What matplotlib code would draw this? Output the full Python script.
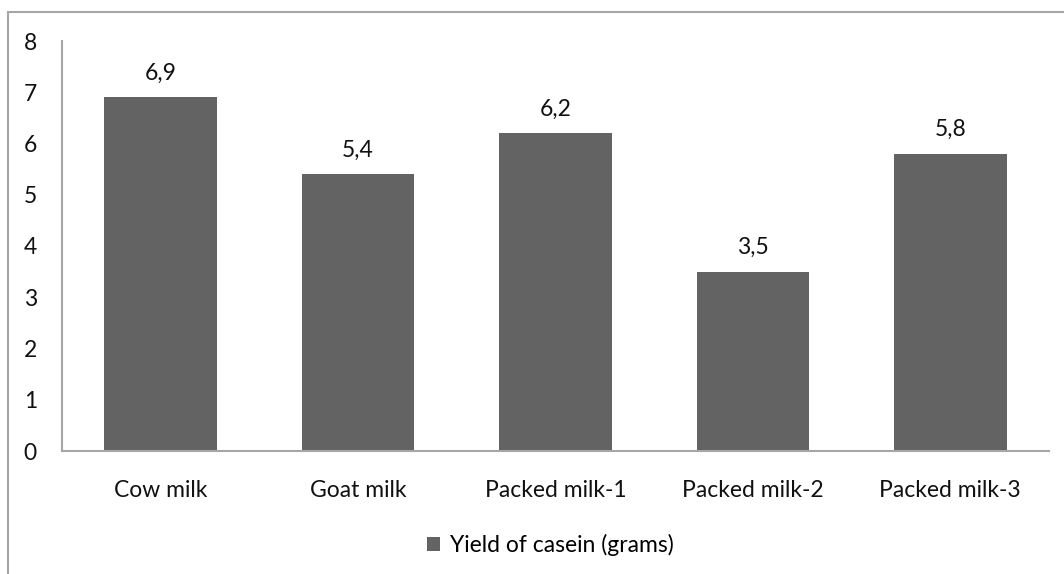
import matplotlib
matplotlib.use('Agg')
import matplotlib.pyplot as plt
import matplotlib.patches as patches
import numpy as np

categories = ['Cow milk', 'Goat milk', 'Packed milk-1', 'Packed milk-2', 'Packed milk-3']
casein_yield = [6.9, 5.4, 6.2, 3.5, 5.8]
series_name = 'Yield of casein (grams)'

bar_color = '#636363'
line_color = '#a6a6a6'

plt.rcParams['font.family'] = ['Lato', 'DejaVu Sans']
fs = 16.5

W, H = 1064, 574
fig = plt.figure(figsize=(W / 100, H / 100), dpi=100)

# outer chart-area border (open to the right and bottom, like the source crop)
fig.add_artist(patches.Rectangle((8 / W, -0.1), 1.2, 1 - 12 / H + 0.1,
                                 transform=fig.transFigure, fill=False,
                                 edgecolor=line_color, linewidth=1.5))

ax = fig.add_axes([62 / W, (H - 451) / H, (1049 - 62) / W, (451 - 41) / H])
x = np.arange(len(categories))
bars = ax.bar(x, casein_yield, width=0.57, color=bar_color, zorder=2)

for bar, v in zip(bars, casein_yield):
    ax.annotate(f'{v:.1f}'.replace('.', ','),
                (bar.get_x() + bar.get_width() / 2, bar.get_height()),
                xytext=(0, 10), textcoords='offset points',
                ha='center', va='bottom', fontsize=fs, color='#111111')

ax.set_xlim(-0.5, len(categories) - 0.5)
ax.set_ylim(0, 8)
ax.set_yticks(range(0, 9))
ax.set_xticks(x)
ax.set_xticklabels(categories)
ax.tick_params(axis='both', length=0, labelsize=fs, colors='#111111')
ax.tick_params(axis='y', pad=18)
ax.tick_params(axis='x', pad=21)

for side in ['top', 'right']:
    ax.spines[side].set_visible(False)
for side in ['left', 'bottom']:
    ax.spines[side].set_color(line_color)
    ax.spines[side].set_linewidth(1.5)

handle = patches.Patch(facecolor=bar_color, edgecolor='none', label=series_name)
fig.legend(handles=[handle], loc='center', bbox_to_anchor=(550 / W, 1 - 545 / H),
           frameon=False, fontsize=fs, handlelength=0.6, handleheight=0.6,
           handletextpad=0.4)

fig.savefig('out.png', dpi=100)
